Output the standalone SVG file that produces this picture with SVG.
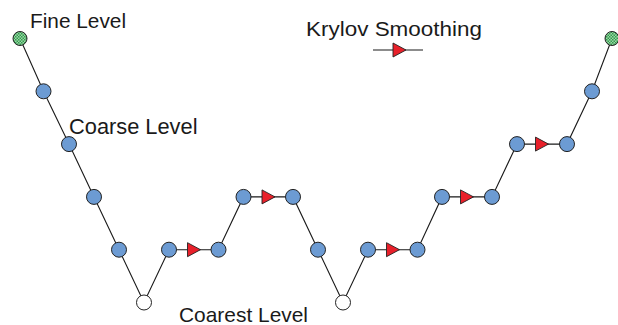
<svg xmlns="http://www.w3.org/2000/svg" width="618" height="325" viewBox="0 0 618 325">
<style>
.n{fill:#6c9bd3;stroke:#222;stroke-width:1}
.w{fill:#fff;stroke:#222;stroke-width:1}
.g{fill:url(#chk);stroke:#222;stroke-width:1}
.e{stroke:#1a1a1a;stroke-width:1.1;fill:none}
.t{font-family:"Liberation Sans",Arial,sans-serif;fill:#1a1a1a}
</style>
<defs>
<pattern id="chk" width="3" height="3" patternUnits="userSpaceOnUse">
<rect width="3" height="3" fill="#9fd4a6"/>
<rect width="1.5" height="1.5" fill="#2f9e4f"/>
<rect x="1.5" y="1.5" width="1.5" height="1.5" fill="#2f9e4f"/>
</pattern>
<path id="tri" d="M-6.5,-7 L6.5,0 L-6.5,7 Z" fill="#e8202a" stroke="#222" stroke-width="0.9"/>
</defs>
<g id="connectors">
<polyline class="e" points="20,38.5 43.5,91.3 69,144.1 94,196.9 119,249.7 144,302.5 169,249.7 218.5,249.7 243.5,196.9 293,196.9 318,249.7 343,302.5 368,249.7 417.5,249.7 442,196.9 492,196.9 517,144.1 567,144.1 592,91.3 612,38.5"/>
<use href="#tri" x="194" y="249.7"/>
<use href="#tri" x="268.5" y="196.9"/>
<use href="#tri" x="393" y="249.7"/>
<use href="#tri" x="467" y="196.9"/>
<use href="#tri" x="542" y="144.1"/>
</g>
<g id="legend">
<line class="e" x1="373" y1="50" x2="423" y2="50"/>
<use href="#tri" x="399.5" y="50"/>
<text class="t" x="306" y="36" font-size="19.5" textLength="176" lengthAdjust="spacingAndGlyphs">Krylov Smoothing</text>
</g>
<g id="n1"><circle class="g" cx="20" cy="38.5" r="7"/></g>
<g id="n2"><circle class="n" cx="43.5" cy="91.3" r="7.5"/></g>
<g id="n3"><circle class="n" cx="69" cy="144.1" r="7.5"/></g>
<g id="n4"><circle class="n" cx="94" cy="196.9" r="7.5"/></g>
<g id="n5"><circle class="n" cx="119" cy="249.7" r="7.5"/></g>
<g id="n6"><circle class="w" cx="144" cy="302.5" r="7.5"/></g>
<g id="n7"><circle class="n" cx="169" cy="249.7" r="7.5"/></g>
<g id="n8"><circle class="n" cx="218.5" cy="249.7" r="7.5"/></g>
<g id="n9"><circle class="n" cx="243.5" cy="196.9" r="7.5"/></g>
<g id="n10"><circle class="n" cx="293" cy="196.9" r="7.5"/></g>
<g id="n11"><circle class="n" cx="318" cy="249.7" r="7.5"/></g>
<g id="n12"><circle class="w" cx="343" cy="302.5" r="7.5"/></g>
<g id="n13"><circle class="n" cx="368" cy="249.7" r="7.5"/></g>
<g id="n14"><circle class="n" cx="417.5" cy="249.7" r="7.5"/></g>
<g id="n15"><circle class="n" cx="442" cy="196.9" r="7.5"/></g>
<g id="n16"><circle class="n" cx="492" cy="196.9" r="7.5"/></g>
<g id="n17"><circle class="n" cx="517" cy="144.1" r="7.5"/></g>
<g id="n18"><circle class="n" cx="567" cy="144.1" r="7.5"/></g>
<g id="n19"><circle class="n" cx="592" cy="91.3" r="7.5"/></g>
<g id="n20"><circle class="g" cx="612" cy="38.5" r="7"/></g>
<g id="labels">
<text class="t" x="30" y="28" font-size="21" textLength="96" lengthAdjust="spacingAndGlyphs">Fine Level</text>
<text class="t" x="69" y="134" font-size="21.5" textLength="128.5" lengthAdjust="spacingAndGlyphs">Coarse Level</text>
<text class="t" x="179" y="322" font-size="21" textLength="129" lengthAdjust="spacingAndGlyphs">Coarest Level</text>
</g>
</svg>
